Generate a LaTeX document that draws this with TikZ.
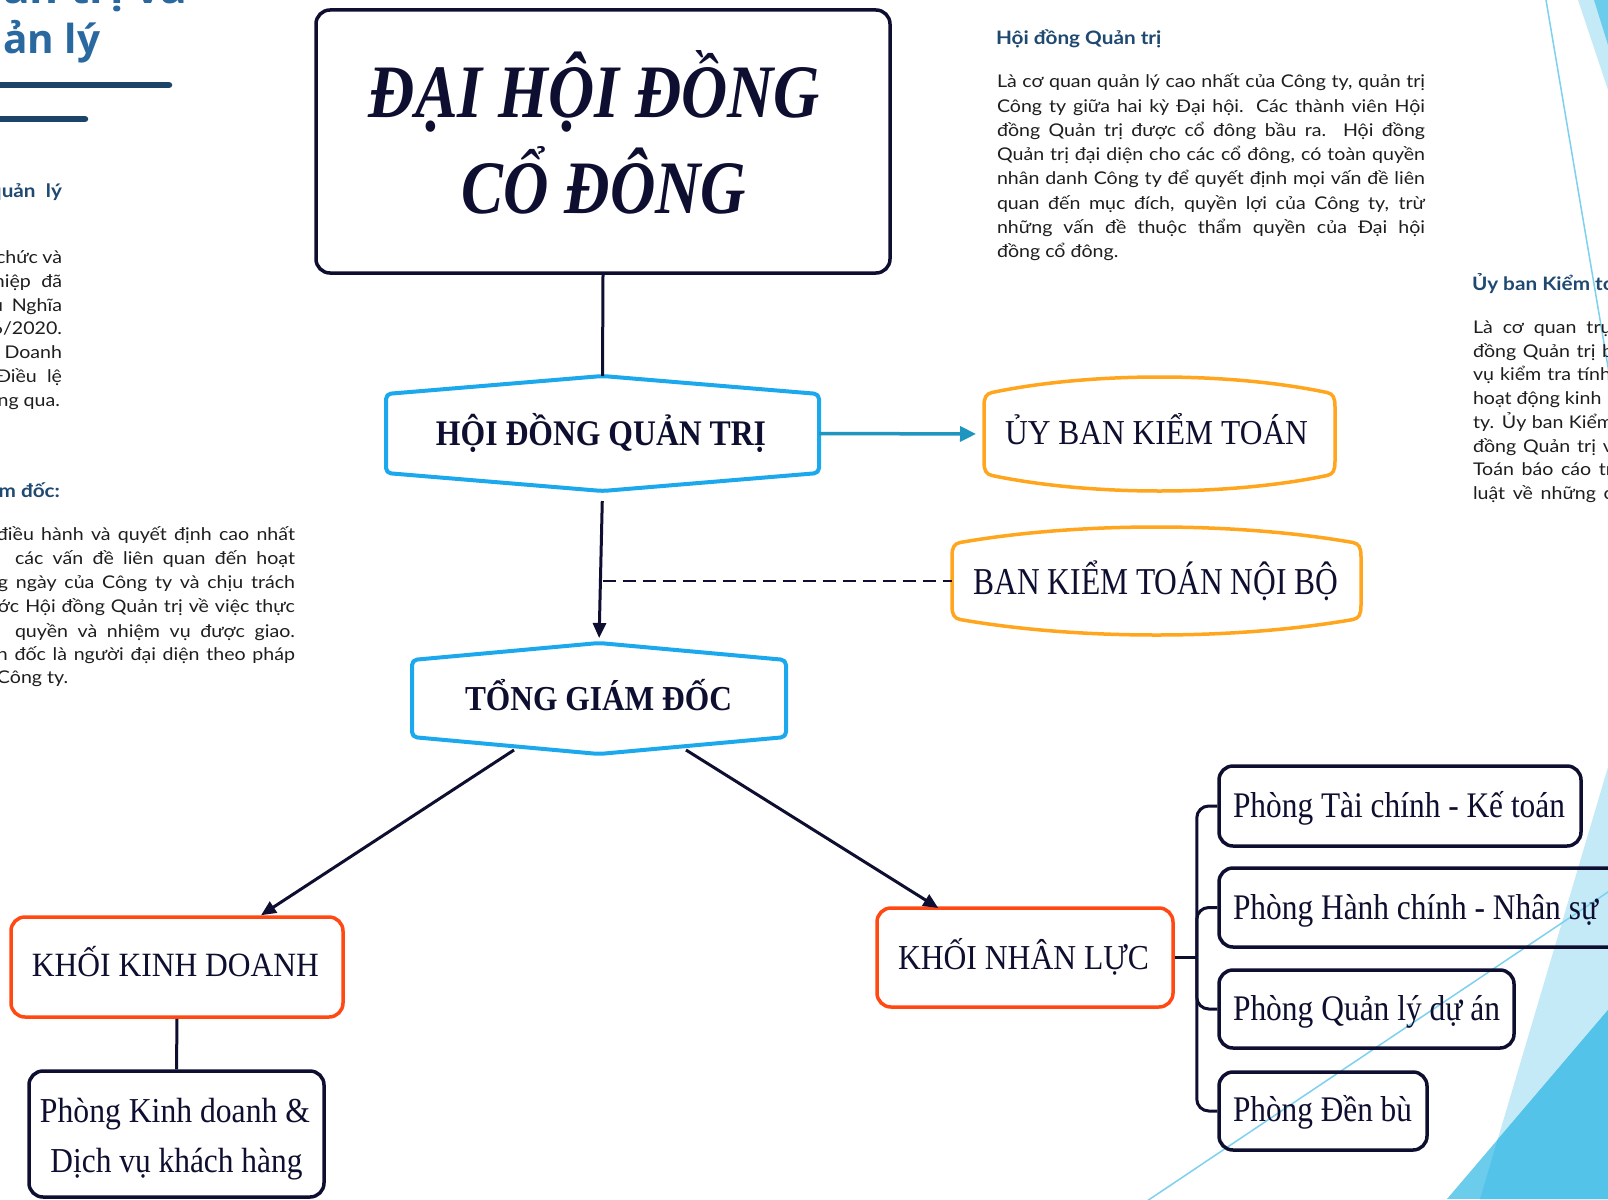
\documentclass[tikz,border=0pt]{standalone}
\usepackage{fontspec}
\usepackage{graphicx}
\usetikzlibrary{arrows.meta,calc}
\setmainfont{Liberation Serif}
\newfontfamily\bodysans{Lato}[FakeStretch=1.12]
\newfontfamily\titlesans{Open Sans}
\definecolor{navy}{RGB}{14,14,48}
\definecolor{hexblue}{RGB}{28,168,236}
\definecolor{orng}{RGB}{255,166,30}
\definecolor{ored}{RGB}{255,72,18}
\definecolor{arrblue}{RGB}{30,150,192}
\definecolor{headblue}{RGB}{31,73,112}
\definecolor{titleblue}{RGB}{42,104,160}
\definecolor{rulecol}{RGB}{28,68,104}
\definecolor{bodytxt}{RGB}{30,30,30}
\definecolor{thinline}{RGB}{125,208,238}
\definecolor{decolight}{RGB}{197,234,247}
\definecolor{decomed}{RGB}{108,204,235}
\definecolor{decodark}{RGB}{84,195,233}
\newcommand\fitw[3]{\resizebox{#1pt}{\height}{\fontsize{#2}{#2}\selectfont #3}}
\newcommand\jl[2]{\makebox[#1pt][s]{#2}}
\newcommand\hexpath[2]{%
 \draw[hexline] ($(#1.north west)+(0,#2)$) -- (#1.north) -- ($(#1.north east)+(0,#2)$) -- ($(#1.south east)+(0,-#2)$) -- (#1.south) -- ($(#1.south west)+(0,-#2)$) -- cycle;}
% #1 node, #2 one sixth of width
\newcommand\ornpath[2]{%
 \draw[ornline] ($(#1.north west)+(0,30)$)
 .. controls ($(#1.north west)+(0,20)$) and ($(#1.north west)+(2,17)$) .. ($(#1.north west)+(8,15.5)$)
 .. controls ($(#1.north west)+(#2,5)$) and ($(#1.north)+(-#2,0)$) .. (#1.north)
 .. controls ($(#1.north)+(#2,0)$) and ($(#1.north east)+(-#2,5)$) .. ($(#1.north east)+(-8,15.5)$)
 .. controls ($(#1.north east)+(-2,17)$) and ($(#1.north east)+(0,20)$) .. ($(#1.north east)+(0,30)$)
 -- ($(#1.south east)+(0,-30)$)
 .. controls ($(#1.south east)+(0,-20)$) and ($(#1.south east)+(-2,-17)$) .. ($(#1.south east)+(-8,-15.5)$)
 .. controls ($(#1.south east)+(-#2,-5)$) and ($(#1.south)+(#2,0)$) .. (#1.south)
 .. controls ($(#1.south)+(-#2,0)$) and ($(#1.south west)+(#2,-5)$) .. ($(#1.south west)+(8,-15.5)$)
 .. controls ($(#1.south west)+(2,-17)$) and ($(#1.south west)+(0,-20)$) .. ($(#1.south west)+(0,-30)$)
 -- cycle;}
\begin{document}
\begin{tikzpicture}[x=1pt,y=-1pt,
 geo/.style={draw=none, inner sep=0pt, outer sep=0pt},
 navybox/.style={draw=navy, line width=3.5pt, rounded corners=14pt, inner sep=0pt},
 redbox/.style={draw=ored, line width=3.5pt, rounded corners=14pt, inner sep=0pt},
 hexline/.style={draw=hexblue, line width=4pt, rounded corners=5pt, line join=round},
 ornline/.style={draw=orng, line width=3.5pt, line join=round},
 lbl/.style={inner sep=0pt, outer sep=0pt, text=navy, anchor=base},
 lblw/.style={lbl, anchor=base west},
 conn/.style={draw=navy, line width=3pt},
 arr/.style={conn, -{Triangle[length=15pt,width=13pt]}},
 arrb/.style={draw=arrblue, line width=3.5pt, -{Triangle[length=16pt,width=15pt]}},
 body/.style={inner sep=0pt, outer sep=0pt, text=bodytxt, font=\bodysans\fontsize{17.5}{24}\selectfont},
 head/.style={inner sep=0pt, outer sep=0pt, text=headblue, font=\bodysans\bfseries\fontsize{18.5}{24}\selectfont},
]
\useasboundingbox (0,0) rectangle (1608,1199);
\fill[white] (0,0) rectangle (1608,1199);

% decorations
\fill[decolight] (1578,0) -- (1608,0) -- (1608,90) -- cycle;
\fill[decomed] (1594,0) -- (1608,0) -- (1608,45) -- cycle;
\draw[thinline, line width=1.5pt] (1545.5,-3) -- (1608.5,370);
\fill[decolight] (1608,767) -- (1608,1199) -- (1480,1199) -- cycle;
\fill[decomed] (1608,1010) -- (1608,1199) -- (1447,1199) -- cycle;
\fill[decodark] (1608,1010) -- (1497.7,1139.5) -- (1480,1199) -- (1608,1199) -- cycle;
\draw[thinline, line width=1.5pt] (1147,1201) -- (1611,890);

% title fragments
\node[anchor=base west, inner sep=0pt, text=titleblue] (title1) at (3,4) {\resizebox{184pt}{\height}{\titlesans\bfseries\fontsize{40}{40}\selectfont ản trị và}};
\node[anchor=base west, inner sep=0pt, text=titleblue] (title2) at (3,53) {\resizebox{97pt}{\height}{\titlesans\bfseries\fontsize{40}{40}\selectfont ản lý}};
\draw[rulecol, line width=6.5pt, line cap=round] (-10,85) -- (169,85);
\draw[rulecol, line width=6.5pt, line cap=round] (-10,119) -- (85,119);

% left block 1
\node[head, anchor=base east] (lh1) at (62,197) {\jl{72}{quản lý}};
\node[body, anchor=base east] (la1) at (62,263) {\jl{66}{chức và}};
\node[body, anchor=base east] (la2) at (62,287) {\jl{68}{hiệp đã}};
\node[body, anchor=base east] (la3) at (62,311) {\jl{70}{ủ Nghĩa}};
\node[body, anchor=base east] (la4) at (62,334) {6/2020.};
\node[body, anchor=base east] (la5) at (62,358) {\jl{72}{t Doanh}};
\node[body, anchor=base east] (la6) at (62,382) {\jl{66}{Điều lệ}};
\node[body, anchor=base east] (la7) at (60,406) {ng qua.};

% left block 2
\node[head, anchor=base east] (lh2) at (60,497) {m đốc:};
\node[body, anchor=base east] (lb1) at (295,540) {\jl{298}{điều hành và quyết định cao nhất}};
\node[body, anchor=base east] (lb2) at (295,564) {\jl{280}{các vấn đề liên quan đến hoạt}};
\node[body, anchor=base east] (lb3) at (295,588) {\jl{297}{g ngày của Công ty và chịu trách}};
\node[body, anchor=base east] (lb4) at (295,612) {\jl{297}{ớc Hội đồng Quản trị về việc thực}};
\node[body, anchor=base east] (lb5) at (295,637) {\jl{280}{quyền và nhiệm vụ được giao.}};
\node[body, anchor=base east] (lb6) at (295,660) {\jl{298}{n đốc là người đại diện theo pháp}};
\node[body, anchor=base west] (lb7) at (-3,683) {Công ty.};

% right block HĐQT
\node[head, anchor=base west] (rh1) at (996,45) {Hội đồng Quản trị};
\node[body, anchor=base west] (ra1) at (997,88) {\jl{428}{Là cơ quan quản lý cao nhất của Công ty, quản trị}};
\node[body, anchor=base west] (ra2) at (997,112) {\jl{428}{Công ty giữa hai kỳ Đại hội. Các thành viên Hội}};
\node[body, anchor=base west] (ra3) at (997,136) {\jl{428}{đồng Quản trị được cổ đông bầu ra. Hội đồng}};
\node[body, anchor=base west] (ra4) at (997,160) {\jl{428}{Quản trị đại diện cho các cổ đông, có toàn quyền}};
\node[body, anchor=base west] (ra5) at (997,184) {\jl{428}{nhân danh Công ty để quyết định mọi vấn đề liên}};
\node[body, anchor=base west] (ra6) at (997,209) {\jl{428}{quan đến mục đích, quyền lợi của Công ty, trừ}};
\node[body, anchor=base west] (ra7) at (997,233) {\jl{428}{những vấn đề thuộc thẩm quyền của Đại hội}};
\node[body, anchor=base west] (ra8) at (997,257) {đồng cổ đông.};

% far right block
\node[head, anchor=base west] (rh2) at (1472,290) {Ủy ban Kiểm to};
\node[body, anchor=base west] (rb1) at (1473,333) {\jl{140}{Là cơ quan trự}};
\node[body, anchor=base west] (rb2) at (1473,357) {\jl{140}{đồng Quản trị b}};
\node[body, anchor=base west] (rb3) at (1473,380) {\jl{138}{vụ kiểm tra tính}};
\node[body, anchor=base west] (rb4) at (1473,404) {hoạt động kinh};
\node[body, anchor=base west] (rb5) at (1473,428) {\jl{140}{ty. Ủy ban Kiểm}};
\node[body, anchor=base west] (rb6) at (1473,452) {\jl{140}{đồng Quản trị v}};
\node[body, anchor=base west] (rb7) at (1473,475) {\jl{140}{Toán báo cáo tr}};
\node[body, anchor=base west] (rb8) at (1473,499) {\jl{140}{luật về những c}};

% diagram boxes
\node[navybox, minimum width=574pt, minimum height=263pt] (dhd) at (603,141.5) {};
\node[geo, minimum width=433pt, minimum height=115pt] (hdqt) at (602.5,433.5) {};
\node[geo, minimum width=351pt, minimum height=114pt] (uyban) at (1159.5,434) {};
\node[geo, minimum width=409pt, minimum height=108pt] (bktnb) at (1156.5,581) {};
\node[geo, minimum width=374pt, minimum height=111pt] (tgd) at (599,698.5) {};
\node[redbox, minimum width=332pt, minimum height=100pt] (kkd) at (177,967) {};
\node[navybox, minimum width=295pt, minimum height=126pt] (pkd) at (176.5,1134) {};
\node[redbox, minimum width=296pt, minimum height=99pt] (knl) at (1025,957.5) {};
\node[navybox, minimum width=362pt, minimum height=80pt] (ptc) at (1400,806) {};
\node[navybox, minimum width=406pt, minimum height=79pt] (phc) at (1422,907.5) {};
\node[navybox, minimum width=295pt, minimum height=78pt] (pql) at (1366.5,1009) {};
\node[navybox, minimum width=208pt, minimum height=78pt] (pdb) at (1323,1111) {};
\hexpath{hdqt}{18}
\hexpath{tgd}{17}
\ornpath{uyban}{58}
\ornpath{bktnb}{68}

% texts
\node[lbl] (tdhd1) at (594.5,117) {\fitw{451}{75.5}{\bfseries\itshape ĐẠI HỘI ĐỒNG}};
\node[lbl] (tdhd2) at (604,213) {\fitw{284.5}{75.5}{\bfseries\itshape CỔ ĐÔNG}};
\node[lbl] (thdqt) at (601,445) {\fitw{330}{36}{\bfseries HỘI ĐỒNG QUẢN TRỊ}};
\node[lbl] (tuyban) at (1156.5,444) {\fitw{303}{35}{ỦY BAN KIỂM TOÁN}};
\node[lbl] (tbktnb) at (1156,594) {\fitw{365}{38}{BAN KIỂM TOÁN NỘI BỘ}};
\node[lbl] (ttgd) at (598.5,710) {\fitw{267}{35}{\bfseries TỔNG GIÁM ĐỐC}};
\node[lbl] (tkkd) at (175.5,976) {\fitw{287}{34}{KHỐI KINH DOANH}};
\node[lbl] (tpkd1) at (175,1122) {\fitw{270}{35}{Phòng Kinh doanh \&}};
\node[lbl] (tpkd2) at (176.5,1172) {\fitw{252}{35}{Dịch vụ khách hàng}};
\node[lbl] (tknl) at (1023.5,969) {\fitw{251}{35}{KHỐI NHÂN LỰC}};
\node[lblw] (tptc) at (1233,817) {\fitw{332}{36}{Phòng Tài chính - Kế toán}};
\node[lblw] (tphc) at (1233,919) {\fitw{365}{36}{Phòng Hành chính - Nhân sự}};
\node[lblw] (tpql) at (1233,1020) {\fitw{267}{36}{Phòng Quản lý dự án}};
\node[lblw] (tpdb) at (1233,1121) {\fitw{179}{36}{Phòng Đền bù}};

% connectors
\draw[conn] (dhd.south) -- (hdqt.north);
\draw[arrb, shorten >=8pt] (hdqt.east) -- (uyban.west);
\draw[arr, shorten <=10pt, shorten >=5pt] (hdqt.south) -- (tgd.north);
\coordinate (dj) at (hdqt.south |- bktnb.west);
\draw[conn, line width=2.2pt, dash pattern=on 13pt off 7pt] (dj) -- (bktnb.west);
\draw[arr] ($(tgd.south)+(-85,-4)$) -- ($(kkd.north)+(84,0)$);
\draw[arr] ($(tgd.south)+(87,-4)$) -- ($(knl.north west)+(63,1.75)$);
\draw[conn] (kkd.south) -- (pkd.north);
\coordinate (bus) at ($(knl.east)+(22,0)$);
\draw[conn] (knl.east) -- (bus);
\draw[conn, rounded corners=12pt] (bus) |- (ptc.west);
\draw[conn, rounded corners=12pt] (bus) |- (phc.west);
\draw[conn, rounded corners=12pt] (bus) |- (pql.west);
\draw[conn, rounded corners=12pt] (bus) |- (pdb.west);
\end{tikzpicture}
\end{document}
